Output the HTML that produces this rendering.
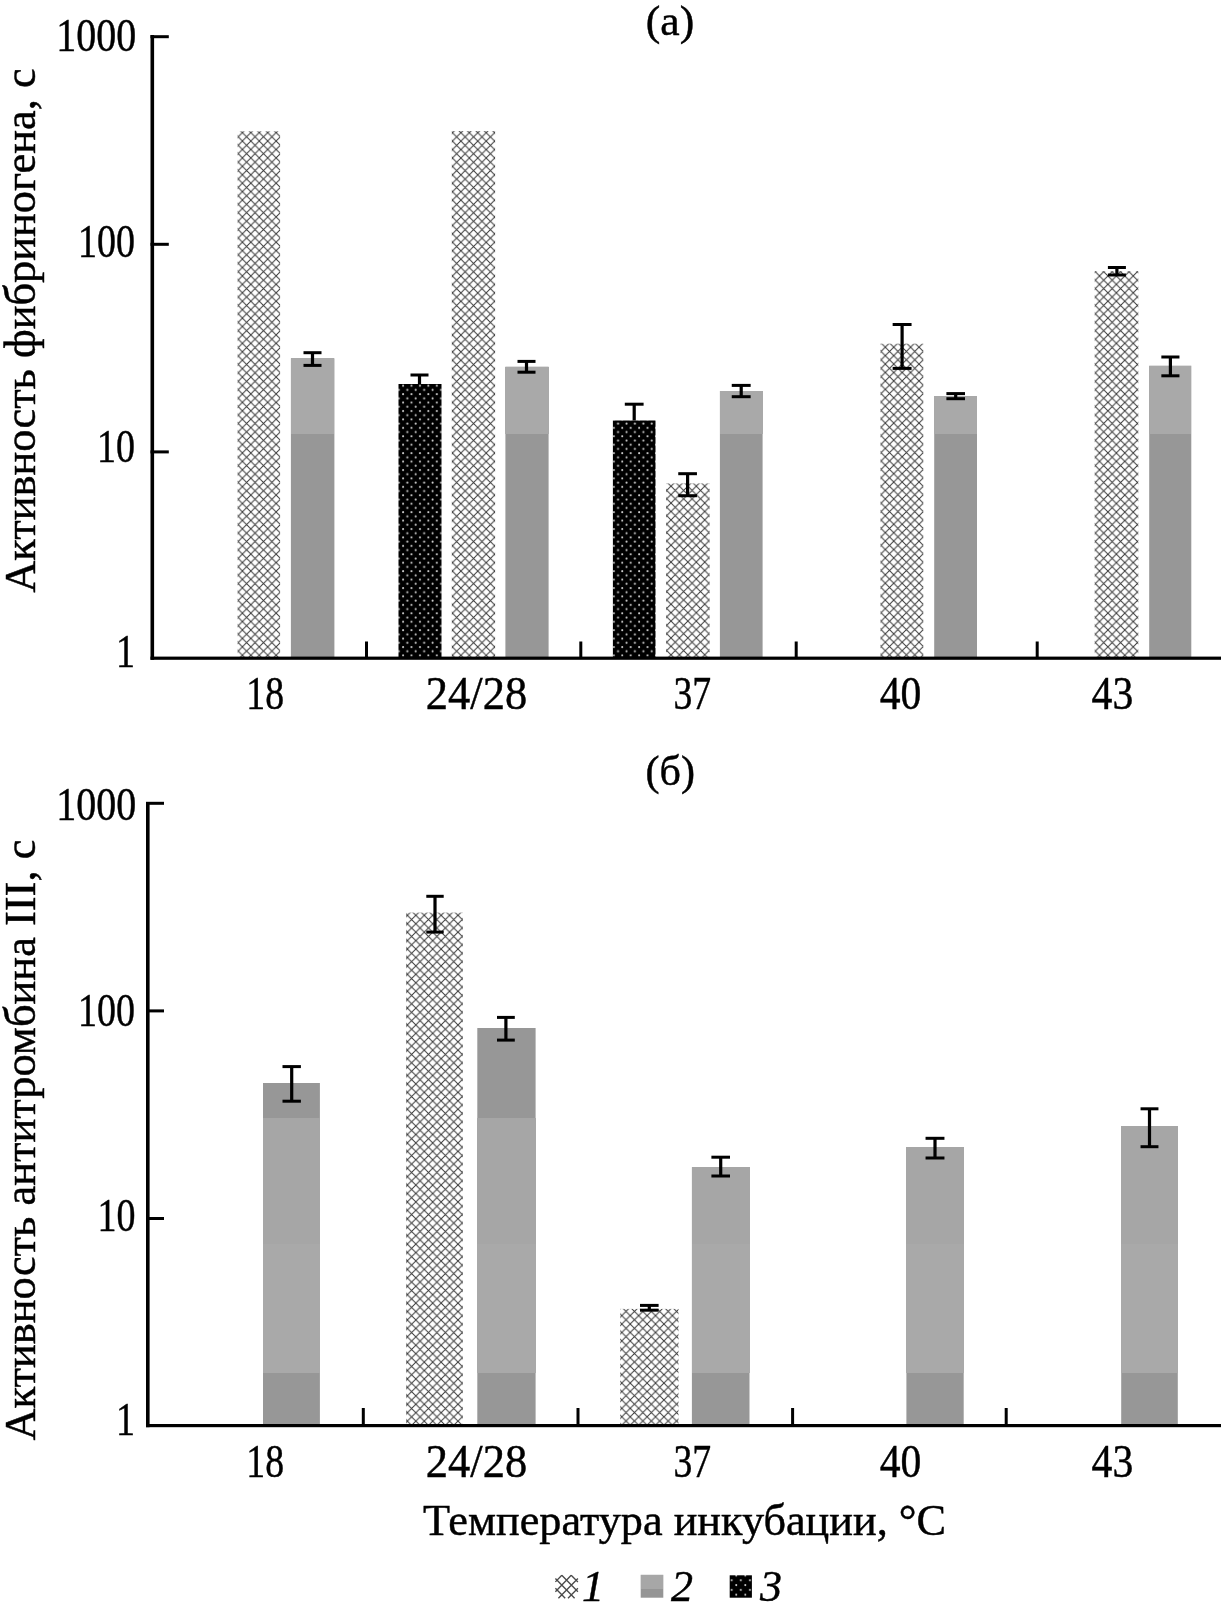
<!DOCTYPE html>
<html><head><meta charset="utf-8"><style>
html,body{margin:0;padding:0;background:#fff;}
body{width:1227px;height:1614px;overflow:hidden;}
svg{display:block;will-change:transform;}
text{font-family:"Liberation Serif",serif;fill:#000;stroke:#000;stroke-width:0.45px;}
</style></head><body>
<svg width="1227" height="1614" viewBox="0 0 1227 1614">
<defs>
<pattern id="xl" patternUnits="userSpaceOnUse" x="554.8" y="1574.8" width="7.77" height="7.77">
<path d="M-1,-1 L8.77,8.77 M8.77,-1 L-1,8.77" stroke="#707070" stroke-width="1.3" fill="none"/>
</pattern>
<pattern id="dotsl" patternUnits="userSpaceOnUse" x="729.7" y="1578.3" width="9.1" height="9.6">
<rect x="0" y="0" width="9.1" height="9.6" fill="#000"/>
<circle cx="2" cy="2" r="1.0" fill="#d0d0d0"/>
<circle cx="6.55" cy="6.8" r="1.0" fill="#d0d0d0"/>
</pattern>
<pattern id="dots" patternUnits="userSpaceOnUse" x="401.1" y="383.7" width="8.43" height="8.43">
<rect x="0" y="0" width="8.43" height="8.43" fill="#000"/>
<circle cx="2" cy="2" r="1.0" fill="#d0d0d0"/>
<circle cx="6.215" cy="6.215" r="1.0" fill="#d0d0d0"/>
</pattern>
<pattern id="x0" patternUnits="userSpaceOnUse" x="242.40" y="132.60" width="8.43" height="8.43"><path d="M-1,-1 L9.43,9.43 M9.43,-1 L-1,9.43" stroke="#3a3a3a" stroke-width="1.0" fill="none"/></pattern>
<pattern id="x1" patternUnits="userSpaceOnUse" x="460.90" y="132.70" width="8.43" height="8.43"><path d="M-1,-1 L9.43,9.43 M9.43,-1 L-1,9.43" stroke="#3a3a3a" stroke-width="1.0" fill="none"/></pattern>
<pattern id="x2" patternUnits="userSpaceOnUse" x="671.00" y="503.05" width="8.43" height="8.43"><path d="M-1,-1 L9.43,9.43 M9.43,-1 L-1,9.43" stroke="#3a3a3a" stroke-width="1.0" fill="none"/></pattern>
<pattern id="x3" patternUnits="userSpaceOnUse" x="885.30" y="347.20" width="8.43" height="8.43"><path d="M-1,-1 L9.43,9.43 M9.43,-1 L-1,9.43" stroke="#3a3a3a" stroke-width="1.0" fill="none"/></pattern>
<pattern id="x4" patternUnits="userSpaceOnUse" x="1099.50" y="284.35" width="8.43" height="8.43"><path d="M-1,-1 L9.43,9.43 M9.43,-1 L-1,9.43" stroke="#3a3a3a" stroke-width="1.0" fill="none"/></pattern>
<pattern id="x5" patternUnits="userSpaceOnUse" x="407.40" y="1303.10" width="8.43" height="8.43"><path d="M-1,-1 L9.43,9.43 M9.43,-1 L-1,9.43" stroke="#3a3a3a" stroke-width="1.0" fill="none"/></pattern>
<pattern id="x6" patternUnits="userSpaceOnUse" x="621.80" y="1340.90" width="8.43" height="8.43"><path d="M-1,-1 L9.43,9.43 M9.43,-1 L-1,9.43" stroke="#3a3a3a" stroke-width="1.0" fill="none"/></pattern>
</defs>
<rect x="0" y="0" width="1227" height="1614" fill="#fff"/>

<rect x="237.6" y="131.3" width="42.50" height="526.90" fill="url(#x0)"/>
<rect x="290.9" y="358.30" width="43.50" height="299.90" fill="#979797"/>
<rect x="290.9" y="358.30" width="43.50" height="75.70" fill="#a9a9a9" shape-rendering="crispEdges"/>
<rect x="310.90" y="352.70" width="3.2" height="12.70" fill="#000"/>
<rect x="303.50" y="351.20" width="18.00" height="3.0" fill="#000"/>
<rect x="303.50" y="363.90" width="18.00" height="3.0" fill="#000"/>
<rect x="398.5" y="384.0" width="43.00" height="274.20" fill="url(#dots)"/>
<rect x="417.90" y="375.00" width="3.2" height="9.00" fill="#000"/>
<rect x="410.50" y="373.50" width="18.00" height="3.0" fill="#000"/>
<rect x="451.8" y="131.0" width="43.30" height="527.20" fill="url(#x1)"/>
<rect x="505.4" y="366.70" width="43.20" height="291.50" fill="#979797"/>
<rect x="505.4" y="366.70" width="43.20" height="67.30" fill="#a9a9a9" shape-rendering="crispEdges"/>
<rect x="524.90" y="361.40" width="3.2" height="10.80" fill="#000"/>
<rect x="517.50" y="359.90" width="18.00" height="3.0" fill="#000"/>
<rect x="517.50" y="370.70" width="18.00" height="3.0" fill="#000"/>
<rect x="612.9" y="420.5" width="42.60" height="237.70" fill="url(#dots)"/>
<rect x="632.60" y="404.20" width="3.2" height="16.30" fill="#000"/>
<rect x="624.80" y="402.70" width="18.80" height="3.0" fill="#000"/>
<rect x="666.0" y="483.4" width="43.60" height="174.80" fill="url(#x2)"/>
<rect x="686.00" y="473.70" width="3.2" height="22.00" fill="#000"/>
<rect x="678.25" y="472.20" width="18.70" height="3.0" fill="#000"/>
<rect x="678.25" y="494.20" width="18.70" height="3.0" fill="#000"/>
<rect x="719.9" y="391.00" width="42.70" height="267.20" fill="#979797"/>
<rect x="719.9" y="391.00" width="42.70" height="43.00" fill="#a9a9a9" shape-rendering="crispEdges"/>
<rect x="739.60" y="385.40" width="3.2" height="11.30" fill="#000"/>
<rect x="731.75" y="383.90" width="18.90" height="3.0" fill="#000"/>
<rect x="731.75" y="395.20" width="18.90" height="3.0" fill="#000"/>
<rect x="880.5" y="343.7" width="42.80" height="314.50" fill="url(#x3)"/>
<rect x="900.50" y="324.50" width="3.2" height="43.90" fill="#000"/>
<rect x="892.65" y="323.00" width="18.90" height="3.0" fill="#000"/>
<rect x="892.65" y="366.90" width="18.90" height="3.0" fill="#000"/>
<rect x="934.2" y="396.40" width="42.80" height="261.80" fill="#979797"/>
<rect x="934.2" y="396.40" width="42.80" height="37.60" fill="#a9a9a9" shape-rendering="crispEdges"/>
<rect x="954.10" y="393.60" width="3.2" height="5.10" fill="#000"/>
<rect x="946.40" y="392.10" width="18.60" height="3.0" fill="#000"/>
<rect x="946.40" y="397.20" width="18.60" height="3.0" fill="#000"/>
<rect x="1094.7" y="271.1" width="43.60" height="387.10" fill="url(#x4)"/>
<rect x="1115.30" y="267.50" width="3.2" height="7.50" fill="#000"/>
<rect x="1107.90" y="266.00" width="18.00" height="3.0" fill="#000"/>
<rect x="1107.90" y="273.50" width="18.00" height="3.0" fill="#000"/>
<rect x="1149.2" y="365.70" width="42.10" height="292.50" fill="#979797"/>
<rect x="1149.2" y="365.70" width="42.10" height="68.30" fill="#a9a9a9" shape-rendering="crispEdges"/>
<rect x="1168.80" y="357.00" width="3.2" height="18.80" fill="#000"/>
<rect x="1161.35" y="355.50" width="18.10" height="3.0" fill="#000"/>
<rect x="1161.35" y="374.30" width="18.10" height="3.0" fill="#000"/>
<rect x="150.5" y="35" width="3.6" height="624.80" fill="#000"/>
<rect x="150.5" y="656.60" width="1070.50" height="3.2" fill="#000"/>
<rect x="150.5" y="35.20" width="18.3" height="3" fill="#000"/>
<rect x="150.5" y="242.80" width="18.3" height="3" fill="#000"/>
<rect x="150.5" y="450.40" width="18.3" height="3" fill="#000"/>
<rect x="365.00" y="641.5" width="3" height="16.70" fill="#000"/>
<rect x="579.30" y="641.5" width="3" height="16.70" fill="#000"/>
<rect x="794.70" y="641.5" width="3" height="16.70" fill="#000"/>
<rect x="1035.70" y="641.5" width="3" height="16.70" fill="#000"/>
<rect x="263.0" y="1083.00" width="56.90" height="342.60" fill="#979797"/>
<rect x="263.0" y="1118.00" width="56.90" height="126.00" fill="#a6a6a6" shape-rendering="crispEdges"/>
<rect x="263.0" y="1244.00" width="56.90" height="129.00" fill="#a9a9a9" shape-rendering="crispEdges"/>
<rect x="290.10" y="1066.60" width="3.2" height="34.60" fill="#000"/>
<rect x="282.50" y="1065.10" width="18.40" height="3.0" fill="#000"/>
<rect x="282.50" y="1099.70" width="18.40" height="3.0" fill="#000"/>
<rect x="406.0" y="912.6" width="56.90" height="513.00" fill="url(#x5)"/>
<rect x="433.40" y="896.30" width="3.2" height="35.80" fill="#000"/>
<rect x="426.30" y="894.80" width="17.40" height="3.0" fill="#000"/>
<rect x="426.30" y="930.60" width="17.40" height="3.0" fill="#000"/>
<rect x="477.3" y="1028.00" width="58.30" height="397.60" fill="#979797"/>
<rect x="477.3" y="1118.00" width="58.30" height="126.00" fill="#a6a6a6" shape-rendering="crispEdges"/>
<rect x="477.3" y="1244.00" width="58.30" height="129.00" fill="#a9a9a9" shape-rendering="crispEdges"/>
<rect x="504.30" y="1017.40" width="3.2" height="22.70" fill="#000"/>
<rect x="497.00" y="1015.90" width="17.80" height="3.0" fill="#000"/>
<rect x="497.00" y="1038.60" width="17.80" height="3.0" fill="#000"/>
<rect x="620.2" y="1308.9" width="58.30" height="116.70" fill="url(#x6)"/>
<rect x="647.70" y="1305.40" width="3.2" height="4.80" fill="#000"/>
<rect x="640.00" y="1303.90" width="18.60" height="3.0" fill="#000"/>
<rect x="640.00" y="1308.70" width="18.60" height="3.0" fill="#000"/>
<rect x="691.9" y="1167.10" width="57.60" height="258.50" fill="#979797"/>
<rect x="691.9" y="1167.10" width="57.60" height="76.90" fill="#a6a6a6" shape-rendering="crispEdges"/>
<rect x="691.9" y="1244.00" width="57.60" height="129.00" fill="#a9a9a9" shape-rendering="crispEdges"/>
<rect x="719.10" y="1157.20" width="3.2" height="18.80" fill="#000"/>
<rect x="711.40" y="1155.70" width="18.60" height="3.0" fill="#000"/>
<rect x="711.40" y="1174.50" width="18.60" height="3.0" fill="#000"/>
<rect x="906.4" y="1147.40" width="57.30" height="278.20" fill="#979797"/>
<rect x="906.4" y="1147.40" width="57.30" height="96.60" fill="#a6a6a6" shape-rendering="crispEdges"/>
<rect x="906.4" y="1244.00" width="57.30" height="129.00" fill="#a9a9a9" shape-rendering="crispEdges"/>
<rect x="933.40" y="1138.30" width="3.2" height="19.70" fill="#000"/>
<rect x="925.55" y="1136.80" width="18.90" height="3.0" fill="#000"/>
<rect x="925.55" y="1156.50" width="18.90" height="3.0" fill="#000"/>
<rect x="1121.2" y="1126.30" width="56.60" height="299.30" fill="#979797"/>
<rect x="1121.2" y="1126.30" width="56.60" height="117.70" fill="#a6a6a6" shape-rendering="crispEdges"/>
<rect x="1121.2" y="1244.00" width="56.60" height="129.00" fill="#a9a9a9" shape-rendering="crispEdges"/>
<rect x="1147.90" y="1108.80" width="3.2" height="37.90" fill="#000"/>
<rect x="1140.55" y="1107.30" width="17.90" height="3.0" fill="#000"/>
<rect x="1140.55" y="1145.20" width="17.90" height="3.0" fill="#000"/>
<rect x="146.0" y="802" width="3.6" height="625.20" fill="#000"/>
<rect x="146.0" y="1424.00" width="1075.00" height="3.2" fill="#000"/>
<rect x="146.0" y="801.80" width="18" height="3" fill="#000"/>
<rect x="146.0" y="1009.40" width="18" height="3" fill="#000"/>
<rect x="146.0" y="1217.00" width="18" height="3" fill="#000"/>
<rect x="361.80" y="1408" width="3" height="17.60" fill="#000"/>
<rect x="576.50" y="1408" width="3" height="17.60" fill="#000"/>
<rect x="791.10" y="1408" width="3" height="17.60" fill="#000"/>
<rect x="1004.70" y="1408" width="3" height="17.60" fill="#000"/>
<text x="136.2" y="50.7" font-size="46" text-anchor="end" textLength="80" lengthAdjust="spacingAndGlyphs">1000</text>
<text x="135" y="256.6" font-size="46" text-anchor="end" textLength="57" lengthAdjust="spacingAndGlyphs">100</text>
<text x="135" y="461.8" font-size="46" text-anchor="end" textLength="38" lengthAdjust="spacingAndGlyphs">10</text>
<text x="135" y="667" font-size="46" text-anchor="end" textLength="19" lengthAdjust="spacingAndGlyphs">1</text>
<text x="136.2" y="820" font-size="46" text-anchor="end" textLength="80" lengthAdjust="spacingAndGlyphs">1000</text>
<text x="135" y="1026" font-size="46" text-anchor="end" textLength="57" lengthAdjust="spacingAndGlyphs">100</text>
<text x="135.5" y="1230.8" font-size="46" text-anchor="end" textLength="38" lengthAdjust="spacingAndGlyphs">10</text>
<text x="135" y="1435" font-size="46" text-anchor="end" textLength="19" lengthAdjust="spacingAndGlyphs">1</text>
<text x="670" y="34.6" font-size="42" text-anchor="middle" textLength="48.5" lengthAdjust="spacingAndGlyphs">(а)</text>
<text x="670.2" y="784.8" font-size="42" text-anchor="middle" textLength="49.5" lengthAdjust="spacingAndGlyphs">(б)</text>
<text x="265.20000000000005" y="709" font-size="46" text-anchor="middle" textLength="37.7" lengthAdjust="spacingAndGlyphs">18</text>
<text x="265.20000000000005" y="1476.6" font-size="46" text-anchor="middle" textLength="37.7" lengthAdjust="spacingAndGlyphs">18</text>
<text x="476.5" y="709" font-size="46" text-anchor="middle" textLength="101.3" lengthAdjust="spacingAndGlyphs">24/28</text>
<text x="476.5" y="1476.6" font-size="46" text-anchor="middle" textLength="101.3" lengthAdjust="spacingAndGlyphs">24/28</text>
<text x="692.3" y="709" font-size="46" text-anchor="middle" textLength="37.7" lengthAdjust="spacingAndGlyphs">37</text>
<text x="692.3" y="1476.6" font-size="46" text-anchor="middle" textLength="37.7" lengthAdjust="spacingAndGlyphs">37</text>
<text x="900.6" y="709" font-size="46" text-anchor="middle" textLength="41.6" lengthAdjust="spacingAndGlyphs">40</text>
<text x="900.6" y="1476.6" font-size="46" text-anchor="middle" textLength="41.6" lengthAdjust="spacingAndGlyphs">40</text>
<text x="1112.45" y="709" font-size="46" text-anchor="middle" textLength="41.7" lengthAdjust="spacingAndGlyphs">43</text>
<text x="1112.45" y="1476.6" font-size="46" text-anchor="middle" textLength="41.7" lengthAdjust="spacingAndGlyphs">43</text>
<text transform="translate(34.5,592.8) rotate(-90)" font-size="44" textLength="524.5" lengthAdjust="spacingAndGlyphs">Активность фибриногена, с</text>
<text transform="translate(34.5,1440.6) rotate(-90)" font-size="44" textLength="601" lengthAdjust="spacingAndGlyphs">Активность антитромбина III, с</text>
<text x="423" y="1535.2" font-size="44" textLength="523" lengthAdjust="spacingAndGlyphs">Температура инкубации, °C</text>
<path d="M561.8,1575.3 L577.9,1591.8 M571.2,1575.3 L577.9,1582.0 M555.4,1578.5 L574.6,1598.2 M555.4,1588.3 L565.2,1598.2 M561.8,1575.3 L555.4,1581.9 M571.2,1575.3 L555.4,1591.7 M577.9,1578.5 L558.4,1598.2 M577.9,1588.3 L568.0,1598.2" stroke="#4a4a4a" stroke-width="1.35" fill="none"/>
<rect x="640.7" y="1574.8" width="22.6" height="22.9" fill="#959595"/>
<rect x="640.7" y="1574.8" width="22.6" height="14.0" fill="#a7a7a7" shape-rendering="crispEdges"/>
<rect x="729.7" y="1575.3" width="22.2" height="22.4" fill="url(#dotsl)"/>
<text x="582" y="1601" font-size="44" font-style="italic">1</text>
<text x="671" y="1601" font-size="44" font-style="italic">2</text>
<text x="760" y="1601" font-size="44" font-style="italic">3</text>
</svg></body></html>
